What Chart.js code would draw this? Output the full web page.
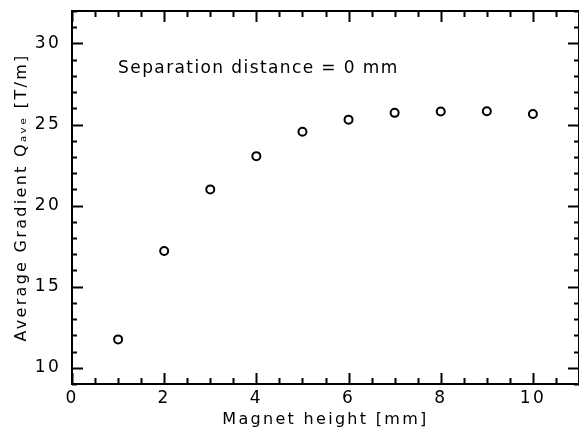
<!DOCTYPE html>
<html>
<head>
<meta charset="utf-8">
<script src="https://cdn.jsdelivr.net/npm/chart.js@4"></script>
<style>
  html, body { margin: 0; padding: 0; background: #fff; }
  #wrap { width: 579px; height: 434px; }
</style>
</head>
<body>
<div id="wrap"><canvas id="grafik"></canvas></div>
<script>
// magnet height [mm] vs average gradient [T/m]
const tinggiMagnet = [1, 2, 3, 4, 5, 6, 7, 8, 9, 10];
const gradienPurata = [11.75, 17.2, 21.0, 23.05, 24.55, 25.3, 25.72, 25.8, 25.82, 25.65];

const paksiX = { min: 0, max: 11, langkah: 0.5, label: 2 };
const paksiY = { min: 9, max: 32, langkah: 1, label: 5 };

const tajukX = 'Magnet height [mm]';
const tajukY = 'Average Gradient Q\u2090\u1d65\u2091 [T/m]';
const nota = 'Separation distance = 0 mm';

const FONT = '"DejaVu Sans", sans-serif';

// frame + inward ticks on all four sides
const bingkai = {
  id: 'bingkai',
  beforeDraw(chart) {
    chart.ctx.letterSpacing = '2.3px';
  },
  afterDraw(chart) {
    const { ctx, chartArea: a, scales } = chart;
    const sx = scales.x, sy = scales.y;
    ctx.save();
    ctx.letterSpacing = '0px';
    ctx.strokeStyle = '#000';
    ctx.lineWidth = 2;
    ctx.strokeRect(a.left, a.top, a.right - a.left, a.bottom - a.top);

    ctx.beginPath();
    for (let v = paksiY.min; v <= paksiY.max; v += paksiY.langkah) {
      const y = Math.round(sy.getPixelForValue(v)) + 0.5;
      const len = v % paksiY.label === 0 ? 11 : 5;
      ctx.moveTo(a.left, y); ctx.lineTo(a.left + len, y);
      ctx.moveTo(a.right, y); ctx.lineTo(a.right - len, y);
    }
    for (let v = paksiX.min; v <= paksiX.max; v += paksiX.langkah) {
      const x = Math.round(sx.getPixelForValue(v)) + 0.5;
      const len = v % paksiX.label === 0 ? 11 : 6;
      ctx.moveTo(x, a.bottom); ctx.lineTo(x, a.bottom - len);
      ctx.moveTo(x, a.top); ctx.lineTo(x, a.top + len);
    }
    ctx.stroke();

    // annotation inside plot
    ctx.letterSpacing = '1.4px';
    ctx.fillStyle = '#000';
    ctx.font = '17px ' + FONT;
    ctx.textAlign = 'left';
    ctx.textBaseline = 'alphabetic';
    ctx.fillText(nota, sx.getPixelForValue(1), sy.getPixelForValue(28.15));
    ctx.restore();
  }
};

const ctx = document.getElementById('grafik').getContext('2d');

new Chart(ctx, {
  type: 'scatter',
  data: {
    datasets: [{
      data: tinggiMagnet.map((x, i) => ({ x, y: gradienPurata[i] })),
      pointStyle: 'circle',
      pointRadius: 4,
      pointBorderWidth: 2,
      pointBorderColor: '#000',
      pointBackgroundColor: 'rgba(0,0,0,0)',
      showLine: false
    }]
  },
  options: {
    responsive: true,
    maintainAspectRatio: false,
    animation: false,
    layout: { autoPadding: false, padding: { left: 12, right: 0, top: 11, bottom: 5 } },
    plugins: {
      legend: { display: false },
      tooltip: { enabled: false }
    },
    scales: {
      x: {
        type: 'linear',
        min: paksiX.min,
        max: paksiX.max,
        border: { display: false },
        grid: { display: false, drawTicks: false },
        afterFit: s => { s.height = 45; s.paddingLeft = 0; s.paddingRight = 0; },
        ticks: {
          stepSize: paksiX.langkah,
          autoSkip: false,
          maxRotation: 0,
          padding: 4,
          color: '#000',
          font: { family: FONT, size: 17 },
          callback: v => (v % paksiX.label === 0 ? v : '')
        },
        title: {
          display: true,
          text: tajukX,
          color: '#000',
          font: { family: FONT, size: 16 },
          padding: { top: 0, bottom: 0 }
        }
      },
      y: {
        type: 'linear',
        min: paksiY.min,
        max: paksiY.max,
        border: { display: false },
        grid: { display: false, drawTicks: false },
        afterFit: s => { s.width = 60; s.paddingTop = 0; s.paddingBottom = 0; },
        ticks: {
          stepSize: paksiY.langkah,
          autoSkip: false,
          padding: 11,
          color: '#000',
          font: { family: FONT, size: 17 },
          callback: v => (v % paksiY.label === 0 ? v : '')
        },
        title: {
          display: true,
          text: tajukY,
          color: '#000',
          font: { family: FONT, size: 16 },
          padding: { top: 0, bottom: 7 }
        }
      }
    }
  },
  plugins: [bingkai]
});
</script>
</body>
</html>
